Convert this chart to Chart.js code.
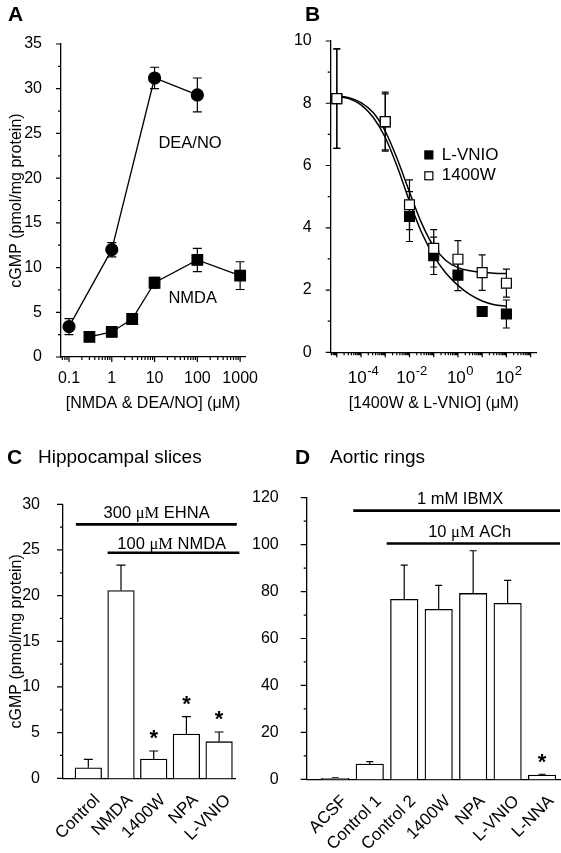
<!DOCTYPE html>
<html>
<head>
<meta charset="utf-8">
<script src="https://cdn.jsdelivr.net/npm/chart.js@4.4.1/dist/chart.umd.min.js"></script>
<style>
  body { margin: 0; background: #fff; }
  #page { position: relative; width: 561px; height: 853px; overflow: hidden; font-family: "Liberation Sans", Arial, sans-serif; color: #000; }
  #page canvas { position: absolute; }
  .tag { position: absolute; font-weight: bold; font-size: 21px; line-height: 24px; }
  .sub { position: absolute; font-size: 19px; line-height: 24px; }
</style>
</head>
<body>
<div id="page">
  <canvas id="chartA" width="280" height="420" style="left:0;top:0"></canvas>
  <canvas id="chartB" width="281" height="420" style="left:280px;top:0"></canvas>
  <canvas id="chartC" width="280" height="433" style="left:0;top:420px"></canvas>
  <canvas id="chartD" width="321" height="433" style="left:240px;top:420px"></canvas>
  <div class="tag" style="left:8px;top:2px">A</div>
  <div class="tag" style="left:305px;top:2px">B</div>
  <div class="tag" style="left:7px;top:445px">C</div>
  <div class="sub" style="left:38px;top:445px">Hippocampal slices</div>
  <div class="tag" style="left:295px;top:445px">D</div>
  <div class="sub" style="left:330px;top:445px">Aortic rings</div>
</div>
<script>
// panel A - cGMP against NMDA / DEA/NO concentration (uM)
const deaConc = [0.1, 1, 10, 100];
const deaCgmp = [3.4, 12.0, 31.2, 29.3];
const deaSem = [0.9, 0.8, 1.2, 1.9];
const nmdaConc = [0.3, 1, 3, 10, 100, 1000];
const nmdaCgmp = [2.25, 2.8, 4.25, 8.3, 10.85, 9.1];
const nmdaSem = [0, 0.4, 0.6, 0.6, 1.3, 1.55];
const ticksAx = [0.1, 1, 10, 100, 1000];
const ticksAy = [0, 5, 10, 15, 20, 25, 30, 35];

// panel B - inhibitor concentration (uM)
const inhConc = [1e-5, 1e-3, 1e-2, 1e-1, 1, 10, 100];
const vnioCgmp = [8.15, 7.4, 4.36, 3.1, 2.48, 1.31, 1.23];
const vnioSem = [1.6, 0.9, 0.8, 0.6, 0.5, 0.15, 0.45];
const w1400Cgmp = [8.15, 7.41, 4.74, 3.34, 2.99, 2.56, 2.22];
const w1400Sem = [1.6, 0.95, 0.8, 0.6, 0.6, 0.57, 0.45];
// fitted curves
const fitConc = [1e-5, 3.16e-5, 1e-4, 3.16e-4, 1e-3, 3.16e-3, 1e-2, 3.16e-2, 1e-1, 3.16e-1, 1, 3.16, 10, 31.6, 100];
const vnioFit = [8.22, 8.15, 7.95, 7.55, 6.9, 5.95, 4.85, 3.85, 3.1, 2.55, 2.15, 1.85, 1.65, 1.53, 1.48];
const w1400Fit = [8.24, 8.18, 8.02, 7.7, 7.1, 6.2, 5.15, 4.15, 3.4, 2.95, 2.72, 2.62, 2.57, 2.54, 2.53];
const ticksBx = [1e-4, 1e-2, 1, 100];
const ticksBxExp = ['-4', '-2', '0', '2'];
const ticksBy = [0, 2, 4, 6, 8, 10];

// panel C - hippocampal slices
const sliceGroups = ['Control', 'NMDA', '1400W', 'NPA', 'L-VNIO'];
const sliceCgmp = [1.16, 20.56, 2.11, 4.85, 4.01];
const sliceSem = [0.92, 2.77, 0.88, 1.9, 1.06];
const sliceStar = [false, false, true, true, true];
const ticksCy = [0, 5, 10, 15, 20, 25, 30];

// panel D - aortic rings
const ringGroups = ['ACSF', 'Control 1', 'Control 2', '1400W', 'NPA', 'L-VNIO', 'L-NNA'];
const ringCgmp = [0.4, 6.5, 76.7, 72.4, 79.2, 75.0, 1.8];
const ringSem = [0.2, 1.0, 14.6, 10.2, 18.2, 9.8, 0.35];
const ringStar = [false, false, false, false, false, false, true];
const ticksDy = [0, 20, 40, 60, 80, 100, 120];

const FONT = '"Liberation Sans", Arial, sans-serif';
const SERIF = '"Liberation Serif", "Times New Roman", serif';
Chart.defaults.font.family = FONT;
Chart.defaults.color = '#000';
Chart.defaults.animation = false;
Chart.defaults.plugins.legend.display = false;
Chart.defaults.plugins.tooltip.enabled = false;

const pts = (xs, ys) => xs.map((x, i) => ({ x, y: ys[i] }));

function logMarks(lo, hi) {
    const major = [], minor = [];
    for (let e = lo; e <= hi; e++) {
        major.push(Math.pow(10, e));
        for (let m = 2; m < 10; m++) minor.push(m * Math.pow(10, e));
    }
    return { major, minor };
}
function linMarks(max, step) {
    const major = [], minor = [];
    for (let v = 0; v <= max + 1e-9; v += step) {
        major.push(v);
        if (v + step / 2 < max) minor.push(v + step / 2);
    }
    return { major, minor };
}

// text with the unit "μM" set in a serif face, like the original
function drawMixed(ctx, text, x, y, size) {
    const parts = text.split(/(μM)/).filter(Boolean);
    const fonts = parts.map(p => (p === 'μM' ? size + 'px ' + SERIF : size + 'px ' + FONT));
    let w = 0;
    const widths = parts.map((p, i) => { ctx.font = fonts[i]; const m = ctx.measureText(p).width; w += m; return m; });
    let cx = x - w / 2;
    ctx.textAlign = 'left';
    ctx.textBaseline = 'middle';
    parts.forEach((p, i) => { ctx.font = fonts[i]; ctx.fillText(p, cx, y); cx += widths[i]; });
}

// outward tick marks, long on the labelled values, short in between
function tickMarks(cfg) {
    return {
        id: 'tickMarks',
        afterDraw(chart) {
            const { ctx, chartArea: a } = chart;
            ctx.save();
            ctx.strokeStyle = '#000';
            ctx.lineWidth = 1.2;
            ctx.beginPath();
            ['x', 'y'].forEach(id => {
                const m = cfg[id];
                if (!m) return;
                const sc = chart.scales[id];
                [[m.major, cfg.majorLen], [m.minor, cfg.minorLen]].forEach(([vals, len]) => {
                    vals.forEach(v => {
                        const p = sc.getPixelForValue(v);
                        if (id === 'x') {
                            if (p < a.left - 0.5 || p > a.right + 0.5) return;
                            ctx.moveTo(p, a.bottom); ctx.lineTo(p, a.bottom + len);
                        } else {
                            if (p < a.top - 0.5 || p > a.bottom + 0.5) return;
                            ctx.moveTo(a.left, p); ctx.lineTo(a.left - len, p);
                        }
                    });
                });
            });
            ctx.stroke();
            ctx.restore();
        }
    };
}

// "10" with a raised exponent under each decade tick
function powerLabels(values, exps) {
    return {
        id: 'powerLabels',
        afterDraw(chart) {
            const { ctx, chartArea: a } = chart;
            const xs = chart.scales.x;
            const base = '17px ' + FONT, sup = '13px ' + FONT;
            ctx.save();
            ctx.fillStyle = '#000';
            ctx.textAlign = 'left';
            ctx.textBaseline = 'alphabetic';
            values.forEach((v, i) => {
                ctx.font = base;
                const wb = ctx.measureText('10').width;
                ctx.font = sup;
                const we = ctx.measureText(exps[i]).width;
                const x0 = xs.getPixelForValue(v) - (wb + we) / 2 + 2;
                const y0 = a.bottom + 31;
                ctx.font = base;
                ctx.fillText('10', x0, y0);
                ctx.font = sup;
                ctx.fillText(exps[i], x0 + wb + 0.5, y0 - 8);
            });
            ctx.restore();
        }
    };
}

function errorBars(cfg) {
    return {
        id: 'errorBars',
        beforeDatasetsDraw(chart) {
            const { ctx } = chart;
            const ys = chart.scales.y;
            ctx.save();
            ctx.strokeStyle = '#000';
            ctx.fillStyle = '#000';
            ctx.lineWidth = 1.2;
            chart.data.datasets.forEach((ds, di) => {
                if (!ds.err) return;
                const meta = chart.getDatasetMeta(di);
                meta.data.forEach((el, i) => {
                    const e = ds.err[i];
                    const v = ds.data[i].y;
                    const x = el.x, c = cfg.cap;
                    const top = ys.getPixelForValue(v + e);
                    if (e) {
                        const bot = ds.upOnly ? ys.getPixelForValue(v) : ys.getPixelForValue(v - e);
                        ctx.beginPath();
                        ctx.moveTo(x, top); ctx.lineTo(x, bot);
                        ctx.moveTo(x - c, top); ctx.lineTo(x + c, top);
                        if (!ds.upOnly) { ctx.moveTo(x - c, bot); ctx.lineTo(x + c, bot); }
                        ctx.stroke();
                    }
                    if (ds.stars && ds.stars[i]) {
                        ctx.font = 'bold 22px ' + FONT;
                        ctx.textAlign = 'center';
                        ctx.textBaseline = 'middle';
                        ctx.fillText('*', x, top - cfg.starGap);
                    }
                });
            });
            ctx.restore();
        }
    };
}

function notes(items) {
    return {
        id: 'notes',
        afterDatasetsDraw(chart) {
            const { ctx } = chart;
            const xs = chart.scales.x, ys = chart.scales.y;
            ctx.save();
            ctx.fillStyle = '#000';
            ctx.strokeStyle = '#000';
            items.forEach(it => {
                if (it.kind === 'text') {
                    drawMixed(ctx, it.text, xs.getPixelForValue(it.x), ys.getPixelForValue(it.y), it.size || 16);
                } else if (it.kind === 'rule') {
                    const y = ys.getPixelForValue(it.y);
                    ctx.lineWidth = 2.6;
                    ctx.beginPath();
                    ctx.moveTo(xs.getPixelForValue(it.from), y);
                    ctx.lineTo(xs.getPixelForValue(it.to), y);
                    ctx.stroke();
                } else if (it.kind === 'key') {
                    const x = xs.getPixelForValue(it.x), y = ys.getPixelForValue(it.y);
                    ctx.lineWidth = 1.2;
                    ctx.fillStyle = it.fill;
                    ctx.fillRect(x - 4, y - 4, 8, 8);
                    ctx.strokeRect(x - 4, y - 4, 8, 8);
                    ctx.fillStyle = '#000';
                    ctx.font = '17px ' + FONT;
                    ctx.textAlign = 'left';
                    ctx.textBaseline = 'middle';
                    ctx.fillText(it.text, x + 13, y);
                }
            });
            ctx.restore();
        }
    };
}

function yScale(o) {
    return {
        type: 'linear', min: 0, max: o.max,
        grid: { display: false },
        border: { display: true, color: '#000', width: 1.3 },
        ticks: { color: '#000', font: { size: 16 }, padding: o.pad },
        afterBuildTicks: s => { s.ticks = o.ticks.map(v => ({ value: v })); },
        afterFit: s => { s.width = o.width; },
        title: o.title
            ? { display: true, text: o.title, color: '#000', font: { size: 16 }, padding: { top: 7, bottom: 0 } }
            : { display: false }
    };
}

function xScale(o) {
    return {
        type: o.type, min: o.min, max: o.max, offset: false,
        grid: { display: false },
        border: { display: true, color: '#000', width: 1.3 },
        ticks: {
            display: o.label !== null,
            color: '#000', font: { size: o.size || 16 }, padding: o.pad, autoSkip: false,
            minRotation: o.rot || 0, maxRotation: o.rot || 0, labelOffset: o.shift || 0,
            callback: o.label || undefined
        },
        afterBuildTicks: s => { s.ticks = o.ticks.map(v => ({ value: v })); },
        afterFit: s => { s.height = o.height; },
        title: o.title
            ? { display: true, text: o.title, color: '#000', font: { size: 16 }, padding: { top: 0, bottom: 7 } }
            : { display: false }
    };
}

const lineDs = (label, data, extra) => Object.assign({
    label, data, showLine: true, borderColor: '#000', borderWidth: 1.3,
    pointBackgroundColor: '#000', pointBorderColor: '#000', pointBorderWidth: 1.2,
    tension: 0, clip: false
}, extra);

// ---------- A
new Chart(document.getElementById('chartA'), {
    type: 'scatter',
    data: {
        datasets: [
            lineDs('DEA/NO', pts(deaConc, deaCgmp), { err: deaSem, pointStyle: 'circle', pointRadius: 6 }),
            lineDs('NMDA', pts(nmdaConc, nmdaCgmp), { err: nmdaSem, pointStyle: 'rect', pointRadius: 7.5 })
        ]
    },
    options: {
        responsive: false,
        layout: { padding: { top: 44, right: 35, left: 0, bottom: 0 } },
        scales: {
            x: xScale({ type: 'logarithmic', min: 0.065, max: 1300, ticks: ticksAx, pad: 4, height: 63,
                label: v => String(v), title: '[NMDA & DEA/NO] (μM)' }),
            y: yScale({ max: 35, ticks: ticksAy, pad: 11, width: 61, title: 'cGMP (pmol/mg protein)' })
        }
    },
    plugins: [
        tickMarks({ x: logMarks(-2, 3), y: linMarks(35, 5), majorLen: 5, minorLen: 3 }),
        errorBars({ cap: 4.5, starGap: 13 }),
        notes([
            { kind: 'text', text: 'DEA/NO', x: 67.6, y: 23.9, size: 16.5 },
            { kind: 'text', text: 'NMDA', x: 78, y: 6.6, size: 16.5 }
        ])
    ]
});

// ---------- B
new Chart(document.getElementById('chartB'), {
    type: 'scatter',
    data: {
        datasets: [
            lineDs('1400W', pts(inhConc, w1400Cgmp), { err: w1400Sem, showLine: false, pointStyle: 'rect',
                pointRadius: 7, pointBackgroundColor: '#fff' }),
            lineDs('L-VNIO', pts(inhConc, vnioCgmp), { err: vnioSem, showLine: false, pointStyle: 'rect', pointRadius: 7 }),
            lineDs('1400W fit', pts(fitConc, w1400Fit), { pointRadius: 0, borderWidth: 1.5, cubicInterpolationMode: 'monotone' }),
            lineDs('L-VNIO fit', pts(fitConc, vnioFit), { pointRadius: 0, borderWidth: 1.5, cubicInterpolationMode: 'monotone' })
        ]
    },
    options: {
        responsive: false,
        layout: { padding: { top: 41, right: 24.3, left: 0, bottom: 0 } },
        scales: {
            x: xScale({ type: 'logarithmic', min: 5.6e-6, max: 1780, ticks: ticksBx, pad: 5, height: 67.7,
                label: null, title: '[1400W & L-VNIO] (μM)' }),
            y: yScale({ max: 10, ticks: ticksBy, pad: 11, width: 50.7 })
        }
    },
    plugins: [
        tickMarks({ x: logMarks(-6, 3), y: linMarks(10, 2), majorLen: 5, minorLen: 3 }),
        powerLabels(ticksBx, ticksBxExp),
        errorBars({ cap: 3.5, starGap: 13 }),
        notes([
            { kind: 'key', text: 'L-VNIO', fill: '#000', x: 0.063, y: 6.34 },
            { kind: 'key', text: '1400W', fill: '#fff', x: 0.063, y: 5.67 }
        ])
    ]
});

const barDs = (data, err, stars, width) => ({
    data, err, stars, upOnly: true,
    backgroundColor: '#fff', borderColor: '#000', borderWidth: 1.3,
    barThickness: width, clip: false
});

// ---------- C
new Chart(document.getElementById('chartC'), {
    type: 'bar',
    data: {
        datasets: [barDs(pts(sliceGroups.map((g, i) => i + 1), sliceCgmp), sliceSem, sliceStar, 26.6)]
    },
    options: {
        responsive: false,
        layout: { padding: { top: 84.3, right: 45, left: 0, bottom: 0 } },
        scales: {
            x: xScale({ type: 'linear', min: 0.226, max: 5.486, ticks: sliceGroups.map((g, i) => i + 1), pad: 4,
                height: 74.7, rot: 45, size: 17, shift: 9, label: (v, i) => sliceGroups[i] }),
            y: yScale({ max: 30, ticks: ticksCy, pad: 15, width: 63, title: 'cGMP (pmol/mg protein)' })
        }
    },
    plugins: [
        tickMarks({ y: linMarks(30, 5), majorLen: 6, minorLen: 3 }),
        errorBars({ cap: 4.5, starGap: 12 }),
        notes([
            { kind: 'rule', from: 0.62, to: 5.54, y: 27.8 },
            { kind: 'rule', from: 1.59, to: 5.62, y: 24.7 },
            { kind: 'text', text: '300 μM EHNA', x: 3.09, y: 29.0, size: 16.5 },
            { kind: 'text', text: '100 μM NMDA', x: 3.55, y: 25.55, size: 16.5 }
        ])
    ]
});

// ---------- D
new Chart(document.getElementById('chartD'), {
    type: 'bar',
    data: {
        datasets: [barDs(pts(ringGroups.map((g, i) => i + 1), ringCgmp), ringSem, ringStar, 27.5)]
    },
    options: {
        responsive: false,
        layout: { padding: { top: 77.7, right: 1, left: 0, bottom: 0 } },
        scales: {
            x: xScale({ type: 'linear', min: 0.17, max: 7.52, ticks: ringGroups.map((g, i) => i + 1), pad: 4,
                height: 73.7, rot: 45, size: 17, shift: 9, label: (v, i) => ringGroups[i] }),
            y: yScale({ max: 120, ticks: ticksDy, pad: 20, width: 66.7 })
        }
    },
    plugins: [
        tickMarks({ y: linMarks(120, 20), majorLen: 6, minorLen: 3 }),
        errorBars({ cap: 3.5, starGap: 11 }),
        notes([
            { kind: 'rule', from: 1.52, to: 7.52, y: 114.5 },
            { kind: 'rule', from: 2.49, to: 7.52, y: 100.5 },
            { kind: 'text', text: '1 mM IBMX', x: 4.62, y: 119.3, size: 16.5 },
            { kind: 'text', text: '10 μM ACh', x: 4.9, y: 105.1, size: 16.5 }
        ])
    ]
});
</script>
</body>
</html>
